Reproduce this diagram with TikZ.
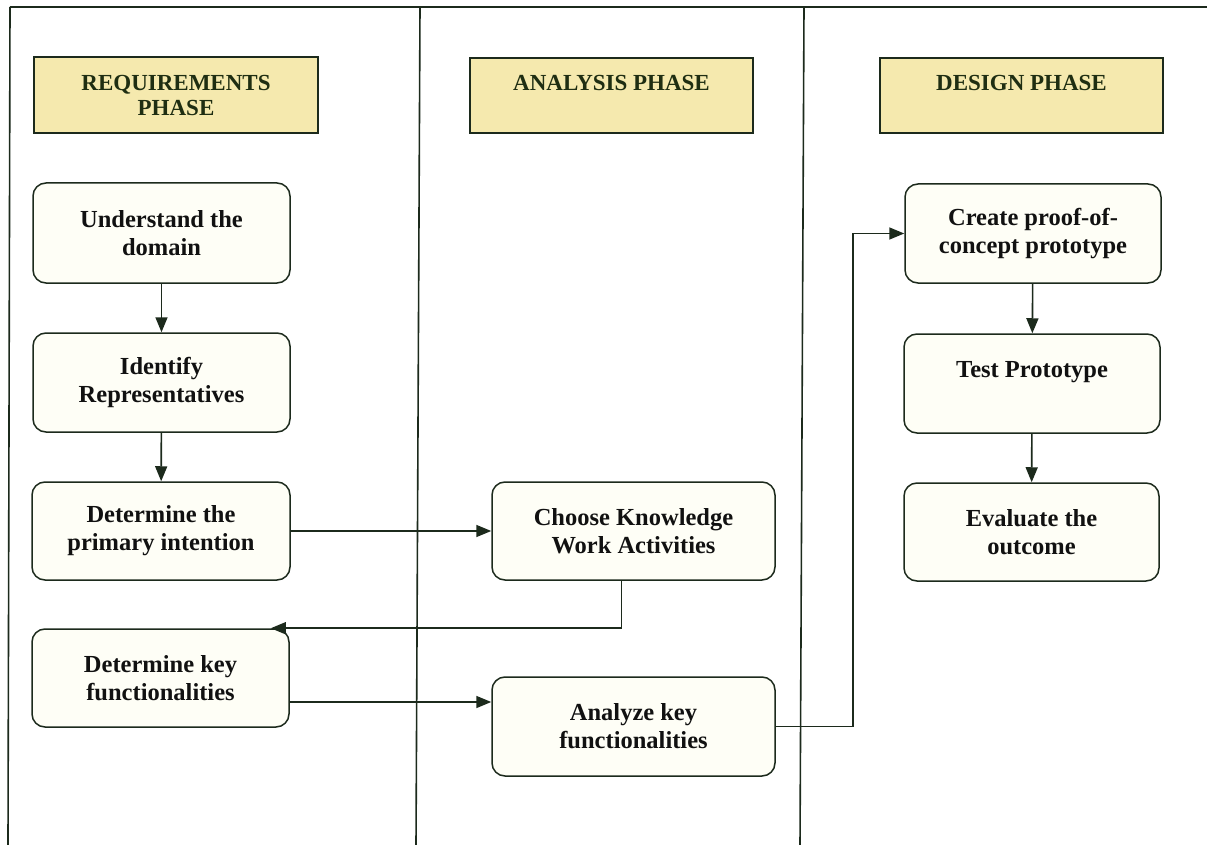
\documentclass[tikz,border=0pt]{standalone}
\usepackage{fontspec}
\setmainfont{Liberation Serif}
\usetikzlibrary{arrows.meta,calc}
\definecolor{lineink}{HTML}{1C2A1C}
\definecolor{phasefill}{HTML}{F5E9AE}
\definecolor{stepfill}{HTML}{FEFEF6}
\definecolor{headink}{HTML}{1F2E12}
\definecolor{bodyink}{HTML}{111111}

\begin{document}
\begin{tikzpicture}[x=1pt,y=-1pt,
  lane/.style={draw=lineink,line width=1.6pt},
  phasebox/.style={draw=lineink,line width=1.6pt,fill=phasefill,inner sep=0pt,
    align=center,text=headink,font=\fontsize{23}{25}\selectfont\bfseries},
  stepbox/.style={draw=lineink,line width=1.5pt,fill=stepfill,rounded corners=13pt,
    inner sep=0pt,align=center,text=bodyink,font=\fontsize{24.5}{28}\selectfont\bfseries},
  flow/.style={draw=lineink,line width=1.6pt,-{Triangle[length=15pt,width=12pt]}}
]
\useasboundingbox (0,0) rectangle (1207,845);
\fill[white] (0,0) rectangle (1207,845);

% swimlane frame
\draw[lane] (10,7) -- (1207,7);
\draw[lane] (10,7) -- (8,845);
\draw[lane] (420,7) -- (416,845);
\draw[lane] (804,7) -- (800,845);

% phase headers
\node[phasebox,minimum width=284pt,minimum height=76pt] (reqh) at (176,95) {REQUIREMENTS\\PHASE};
\node[phasebox,minimum width=283pt,minimum height=75pt] (anah) at (611.5,95.5) {ANALYSIS PHASE\\\mbox{}};
\node[phasebox,minimum width=283pt,minimum height=75pt] (desh) at (1021.5,95.5) {DESIGN PHASE\\\mbox{}};

% requirements lane
\node[stepbox,minimum width=257pt,minimum height=100pt] (understand) at (161.5,233) {Understand the\\domain};
\node[stepbox,minimum width=257pt,minimum height=99pt] (identify) at (161.5,382.5) {Identify\\Representatives};
\node[stepbox,minimum width=258pt,minimum height=98pt] (primary) at (161,531) {Determine the\\primary intention};
\node[stepbox,minimum width=257pt,minimum height=98pt] (keyf) at (160.5,678) {Determine key\\functionalities};

% analysis lane
\node[stepbox,minimum width=283pt,minimum height=98pt] (choose) at (633.5,531) {Choose Knowledge\\Work Activities};
\node[stepbox,minimum width=283pt,minimum height=99pt] (analyze) at (633.5,726.5) {Analyze key\\functionalities};

% design lane
\node[stepbox,minimum width=256pt,minimum height=99pt] (create) at (1033,233.5) {Create proof-of-\\concept prototype};
\node[stepbox,minimum width=256pt,minimum height=99pt] (test) at (1032,383.5) {Test Prototype\\\mbox{}};
\node[stepbox,minimum width=255pt,minimum height=98pt] (evaluate) at (1031.5,532) {Evaluate the\\outcome};

% flow connectors
\draw[flow] (understand) -- (identify);
\draw[flow] (identify) -- (primary);
\draw[flow] (primary) -- (choose);
\draw[flow] ($(choose.south)+(-12,0)$) |- ($(keyf.north east)+(-19,0)$);
\draw[flow] ($(keyf.east)+(0,24)$) -- ($(analyze.west)+(0,-24.5)$);
\draw[flow] (analyze.east) -- ++(77,0) |- (create.west);
\draw[flow] (create) -- (test);
\draw[flow] (test) -- (evaluate);
\end{tikzpicture}
\end{document}
